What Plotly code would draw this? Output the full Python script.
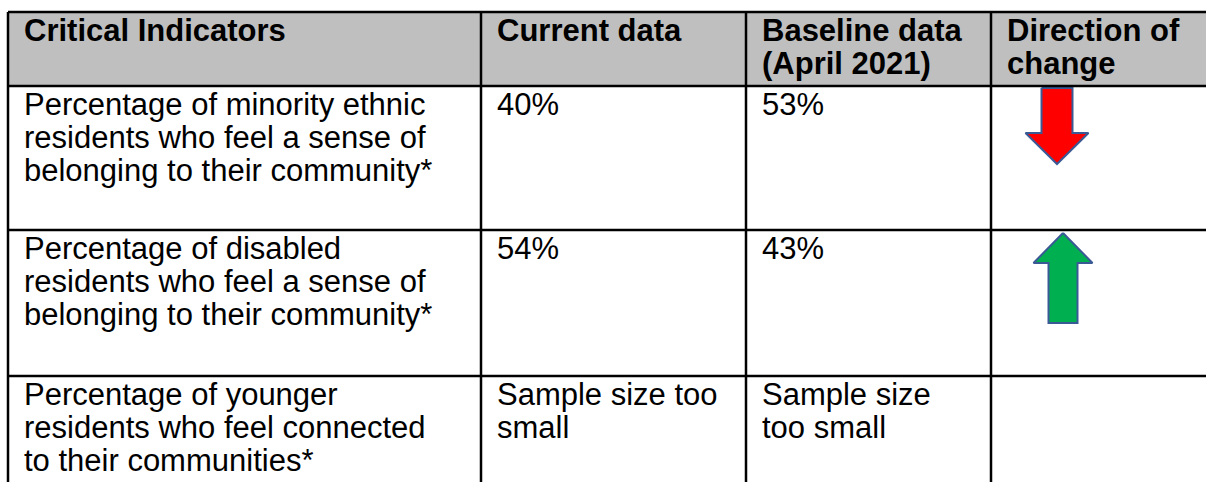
import plotly.graph_objects as go

# table content
header = ["Critical Indicators", "Current data", "Baseline data\n(April 2021)", "Direction of\nchange"]
indicators = [
    "Percentage of minority ethnic\nresidents who feel a sense of\nbelonging to their community*",
    "Percentage of disabled\nresidents who feel a sense of\nbelonging to their community*",
    "Percentage of younger\nresidents who feel connected\nto their communities*",
]
current = ["40%", "54%", "Sample size too\nsmall"]
baseline = ["53%", "43%", "Sample size\ntoo small"]
direction = ["down", "up", None]

# page layout in page pixels
W, H = 1206, 482
col_edges = [8, 481, 746, 991, 1240]
row_edges = [12, 86, 230, 376, 540]
pad_x, first_line, line_h = 14, 18, 33
font = dict(family="Liberation Sans, Arial", size=31, color="black")

arrow_style = {
    "down": dict(fill="#FF0000", dx=66, dy=2, length=76, shaft=31, head=63, headlen=31),
    "up": dict(fill="#00B050", dx=72, dy=3, length=90, shaft=29, head=59, headlen=30),
}

fig = go.Figure()

# header band
fig.add_shape(type="rect", x0=col_edges[0], x1=col_edges[-1], y0=row_edges[0], y1=row_edges[1],
              fillcolor="#BFBFBF", line_width=0, layer="below")

# grid
for x in col_edges:
    fig.add_shape(type="line", x0=x, x1=x, y0=row_edges[0], y1=row_edges[-1], line=dict(color="black", width=2.5))
for y in row_edges:
    fig.add_shape(type="line", x0=col_edges[0], x1=col_edges[-1], y0=y, y1=y, line=dict(color="black", width=2.5))


def put_text(text, col, row, bold=False):
    for i, line in enumerate(text.split("\n")):
        fig.add_annotation(x=col_edges[col] + pad_x, y=row_edges[row] + first_line + i * line_h,
                           text=f"<b>{line}</b>" if bold else line, showarrow=False,
                           xanchor="left", yanchor="middle", font=font)


for c, h in enumerate(header):
    put_text(h, c, 0, bold=True)
for r in range(len(indicators)):
    put_text(indicators[r], 0, r + 1)
    put_text(current[r], 1, r + 1)
    put_text(baseline[r], 2, r + 1)

# direction arrows
for r, d in enumerate(direction):
    if d is None:
        continue
    s = arrow_style[d]
    cx = col_edges[3] + s["dx"]
    top = row_edges[r + 1] + s["dy"]
    L, sw, hw, hl = s["length"], s["shaft"] / 2, s["head"] / 2, s["headlen"]
    if d == "down":
        xs = [cx - sw, cx + sw, cx + sw, cx + hw, cx, cx - hw, cx - sw, cx - sw]
        ys = [top, top, top + L - hl, top + L - hl, top + L, top + L - hl, top + L - hl, top]
    else:
        xs = [cx, cx + hw, cx + sw, cx + sw, cx - sw, cx - sw, cx - hw, cx]
        ys = [top, top + hl, top + hl, top + L, top + L, top + hl, top + hl, top]
    fig.add_trace(go.Scatter(x=xs, y=ys, mode="lines", fill="toself", fillcolor=s["fill"],
                             line=dict(color="#3A5A96", width=2), hoverinfo="skip", showlegend=False))

fig.update_xaxes(range=[0, W], visible=False, fixedrange=True)
fig.update_yaxes(range=[H, 0], visible=False, fixedrange=True)
fig.update_layout(width=W, height=H, margin=dict(l=0, r=0, t=0, b=0),
                  plot_bgcolor="white", paper_bgcolor="white", showlegend=False)

# drop the default body margin so the figure fills the window
fig.write_html("out.html", config={"displayModeBar": False},
               post_script="document.body.style.margin='0';document.body.style.overflow='hidden';")
